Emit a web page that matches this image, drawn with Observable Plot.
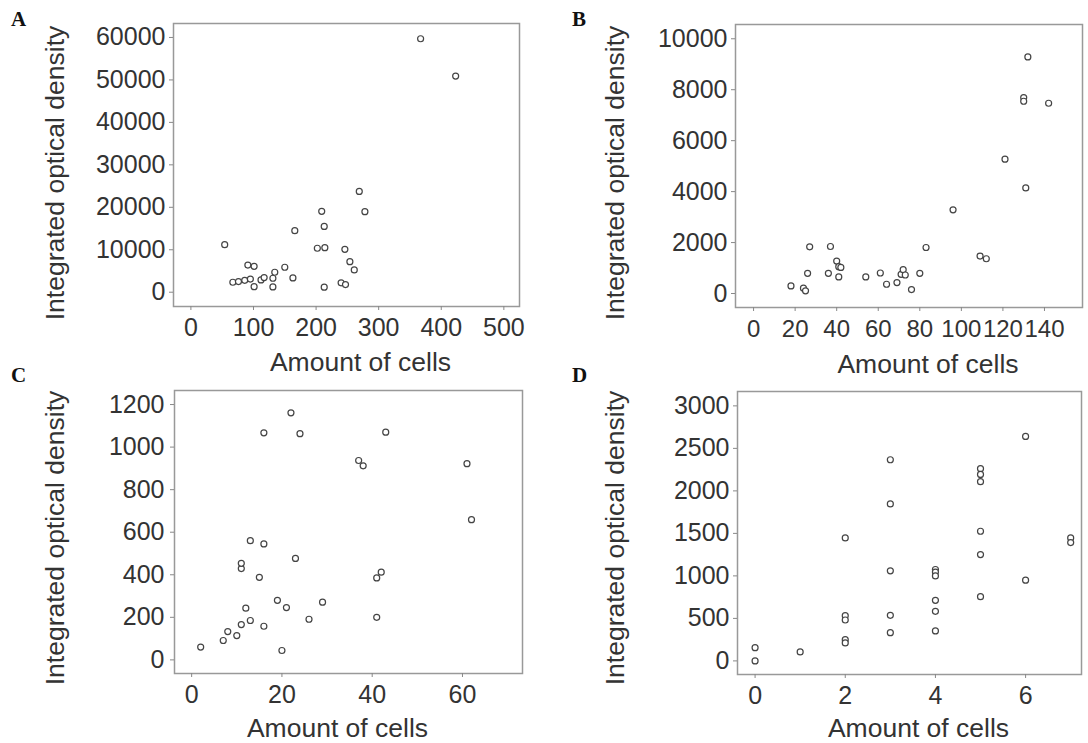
<!DOCTYPE html>
<html><head><meta charset="utf-8">
<script src="https://cdn.jsdelivr.net/npm/d3@7"></script>
<script src="https://cdn.jsdelivr.net/npm/@observablehq/plot@0.6"></script>
<style>
body{margin:0;background:#fff;}
#fig{position:relative;width:1088px;height:743px;overflow:hidden;background:#fff;}
.letter{position:absolute;font-family:"Liberation Serif","Times New Roman",serif;font-weight:bold;font-size:21px;color:#111;line-height:21px;}
</style></head><body><div id="fig"></div>
<script>
// ---- data ----
const A_cells = [367,423,54,67,76,86,91,95,101,101,112,117,131,134,131,150,163,166,202,209,213,214,213,240,247,246,254,261,269,278];
const A_iod   = [59700,50900,11200,2350,2500,2800,6400,3100,6100,1300,2900,3450,3290,4700,1250,5880,3370,14500,10350,19050,15500,10500,1180,2200,1800,10100,7200,5250,23750,18970];

const B_cells = [18,24,25,26,27,36,37,40,41,42,41,54,61,64,69,71,72,73,76,80,83,96,109,112,121,130,130,131,132,142];
const B_iod   = [299,208,104,792,1832,792,1845,1273,1052,1026,650,650,805,364,429,753,935,727,156,792,1806,3286,1468,1364,5274,7690,7547,4144,9288,7469];

const C_cells = [2,7,8,10,11,12,13,11,11,13,15,16,16,16,19,20,21,22,23,24,26,29,37,38,41,42,41,43,61,62];
const C_iod   = [60,91,133,114,166,243,185,429,454,560,388,545,158,1067,280,44,246,1161,477,1063,191,271,937,912,385,412,200,1070,922,659];

const D_cells = [0,0,1,2,2,2,2,2,3,3,3,3,3,4,4,4,4,4,4,5,5,5,5,5,5,6,6,7,7];
const D_iod   = [156,0,106,1447,532,481,250,211,2366,1846,1060,536,332,1075,1045,1000,712,583,352,2261,2194,2108,1525,1251,755,2640,950,1447,1392];

const A_xticks = [0,100,200,300,400,500];
const A_yticks = [0,10000,20000,30000,40000,50000,60000];
const B_xticks = [0,20,40,60,80,100,120,140];
const B_yticks = [0,2000,4000,6000,8000,10000];
const C_xticks = [0,20,40,60];
const C_yticks = [0,200,400,600,800,1000,1200];
const D_xticks = [0,2,4,6];
const D_yticks = [0,500,1000,1500,2000,2500,3000];

const panelLetters = ["A","B","C","D"];
const xTitle = "Amount of cells";
const yTitle = "Integrated optical density";

// ---- drawing ----
const fig = document.getElementById("fig");
const FONT = '"Liberation Sans", Arial, Helvetica, sans-serif';

function panel(cfg) {
  const data = cfg.xs.map((x, i) => ({x, y: cfg.ys[i]}));
  const svg = Plot.plot({
    width: cfg.width, height: cfg.height,
    marginLeft: cfg.mL, marginRight: cfg.mR, marginTop: cfg.mT, marginBottom: cfg.mB,
    style: {fontSize: "25px", fontFamily: FONT, color: "#333", background: "transparent", overflow: "visible"},
    x: {domain: cfg.xDomain},
    y: {domain: cfg.yDomain},
    marks: [
      Plot.frame({stroke: "#999", strokeWidth: 1.5}),
      Plot.axisX({ticks: cfg.xTicks, tickSize: 4, tickPadding: 8, tickFormat: d => String(d), label: null, stroke: "#888", fill: "#333", fontSize: cfg.xFont || 25}),
      Plot.axisY({ticks: cfg.yTicks, tickSize: 4, tickPadding: cfg.yPad, tickFormat: d => String(d), label: null, stroke: "#888", fill: "#333"}),
      Plot.text([xTitle], {text: d => d, frameAnchor: "bottom", textAnchor: "middle", lineAnchor: "top", dx: cfg.xlDx, dy: cfg.xlDy, fontSize: 26.5, fill: "#333"}),
      Plot.text([yTitle], {text: d => d, frameAnchor: "left", textAnchor: "middle", lineAnchor: "top", rotate: -90, dx: cfg.ylDx, dy: cfg.ylDy, fontSize: 26.5, fill: "#333"}),
      Plot.dot(data, {x: "x", y: "y", r: 3, stroke: "#444", strokeWidth: 1.2, fill: "white"})
    ]
  });
  svg.style.position = "absolute";
  svg.style.left = cfg.left + "px";
  svg.style.top = cfg.top + "px";
  fig.appendChild(svg);
}

panel({xs: A_cells, ys: A_iod, xTicks: A_xticks, yTicks: A_yticks,
  left: 0, top: 0, width: 544, height: 380, mL: 173, mR: 25, mT: 23, mB: 74,
  xDomain: [-27.8, 525], yDomain: [-3365, 63290], yPad: 4,
  xlDx: 14, xlDy: 46, ylDx: -128, ylDy: 8});
panel({xs: B_cells, ys: B_iod, xTicks: B_xticks, yTicks: B_yticks,
  left: 560, top: 0, width: 528, height: 380, mL: 175, mR: 6, mT: 24, mB: 73,
  xDomain: [-8.7, 158.3], yDomain: [-549, 10560], yPad: 4, xFont: 24,
  xlDx: 19, xlDy: 47, ylDx: -130, ylDy: 7});
panel({xs: C_cells, ys: C_iod, xTicks: C_xticks, yTicks: C_yticks,
  left: 0, top: 370, width: 544, height: 373, mL: 174, mR: 22, mT: 20, mB: 70,
  xDomain: [-3.8, 73.3], yDomain: [-64, 1266], yPad: 6,
  xlDx: -11, xlDy: 45, ylDx: -129, ylDy: 6});
panel({xs: D_cells, ys: D_iod, xTicks: D_xticks, yTicks: D_yticks,
  left: 560, top: 370, width: 528, height: 373, mL: 177, mR: 7, mT: 21, mB: 69,
  xDomain: [-0.39, 7.24], yDomain: [-160, 3169], yPad: 4,
  xlDx: 9, xlDy: 44, ylDx: -132, ylDy: 5});

const letterPos = [[11, 9], [572, 9], [11, 365], [572, 365]];
panelLetters.forEach((t, i) => {
  const d = document.createElement("div");
  d.className = "letter";
  d.textContent = t;
  d.style.left = letterPos[i][0] + "px";
  d.style.top = letterPos[i][1] + "px";
  fig.appendChild(d);
});
</script>
</body></html>
